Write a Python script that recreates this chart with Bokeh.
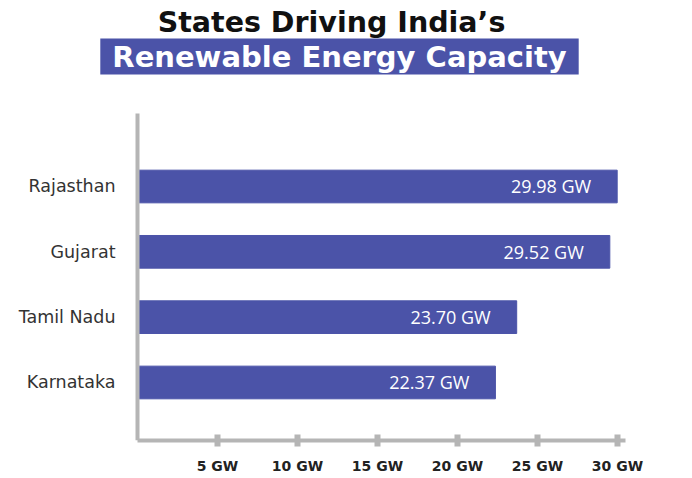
from bokeh.plotting import figure
from bokeh.models import Range1d, FixedTicker, ColumnDataSource, LabelSet, Label, PrintfTickFormatter
from bokeh.embed import file_html
from bokeh.resources import INLINE
from bokeh.core.properties import value

# ---- data ----
states = ["Rajasthan", "Gujarat", "Tamil Nadu", "Karnataka"]
capacity_gw = [29.98, 29.52, 23.70, 22.37]
value_labels = ["29.98 GW", "29.52 GW", "23.70 GW", "22.37 GW"]
x_ticks = [5, 10, 15, 20, 25, 30]
title_line1 = "States Driving India\u2019s"
title_line2 = "Renewable Energy Capacity"

BAR = "#4b53a8"
GRAY = "#b5b5b5"

ypos = list(range(len(states), 0, -1))
src = ColumnDataSource(dict(y=ypos, right=capacity_gw, label=value_labels))

# frame spans the whole canvas width; the axes are pinned at 0 and bounded
p = figure(width=692, height=478, output_backend="svg", toolbar_location=None,
           x_range=Range1d(-8.5625, 34.6875), y_range=Range1d(0.112, 6.847),
           min_border_left=0, min_border_right=0, min_border_top=0, min_border_bottom=38)
p.outline_line_color = None
p.xgrid.visible = False
p.ygrid.visible = False
p.title.visible = False
p.background_fill_color = "white"
p.border_fill_color = "white"

p.hbar(y="y", left=0, right="right", height=0.5, color=BAR, source=src)

p.add_layout(LabelSet(x="right", y="y", text="label", source=src, x_offset=-26,
                      text_align="right", text_baseline="middle", text_color="white",
                      text_font=value("Open Sans"), text_font_size="18px"))

xa = p.xaxis[0]
xa.bounds = (0, 30.5)
xa.ticker = FixedTicker(ticks=x_ticks)
xa.formatter = PrintfTickFormatter(format="%d GW")
xa.axis_line_color = GRAY
xa.axis_line_width = 4
xa.major_tick_line_color = GRAY
xa.major_tick_line_width = 6
xa.major_tick_in = 6
xa.major_tick_out = 6
xa.minor_tick_line_color = None
xa.major_label_text_font = "DejaVu Sans"
xa.major_label_text_font_style = "bold"
xa.major_label_text_font_size = "14px"
xa.major_label_text_color = "#222222"
xa.major_label_standoff = 11

ya = p.yaxis[0]
ya.fixed_location = 0
ya.bounds = (0.112, 5.117)
ya.ticker = FixedTicker(ticks=ypos)
ya.major_label_overrides = {y: s for y, s in zip(ypos, states)}
ya.axis_line_color = GRAY
ya.axis_line_width = 4
ya.major_tick_line_color = None
ya.major_tick_out = 0
ya.major_tick_in = 0
ya.minor_tick_line_color = None
ya.major_label_text_font = "DejaVu Sans"
ya.major_label_text_font_size = "17.5px"
ya.major_label_text_color = "#333333"
ya.major_label_standoff = 22

# headline (screen units, measured from the frame's bottom-left)
p.add_layout(Label(x=331, y=418, x_units="screen", y_units="screen", text=title_line1,
                   text_align="center", text_baseline="middle", text_color="#111111",
                   text_font="DejaVu Sans", text_font_style="bold", text_font_size="28.5px"))
p.add_layout(Label(x=339, y=384, x_units="screen", y_units="screen", text=title_line2,
                   text_align="center", text_baseline="middle", text_color="white",
                   text_font="DejaVu Sans", text_font_style="bold", text_font_size="29px",
                   background_fill_color=BAR,
                   padding=dict(left=12, right=12, top=1, bottom=1)))

open("out.html", "w").write(file_html(p, INLINE))
